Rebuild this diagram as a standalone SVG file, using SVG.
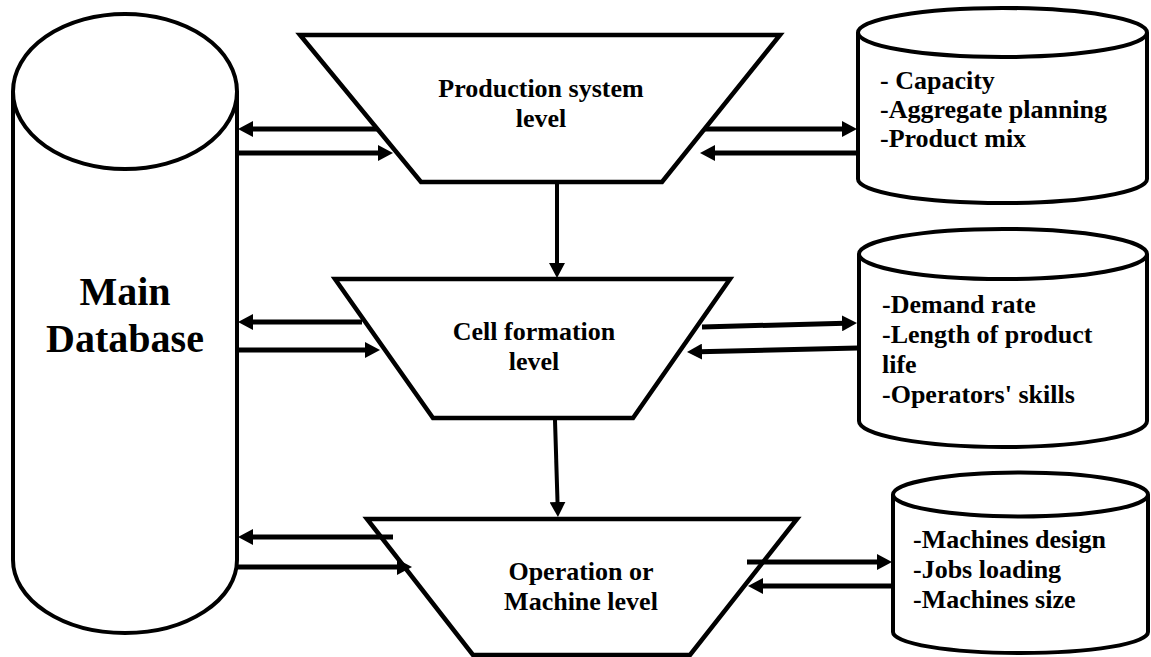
<svg xmlns="http://www.w3.org/2000/svg" width="1151" height="657" viewBox="0 0 1151 657">
<style>
.shape{fill:#fff;stroke:#000;stroke-width:4.5;stroke-linejoin:miter}
.cyl{fill:#fff;stroke:#000;stroke-width:4}
text{font-family:'Liberation Serif','Times New Roman','DejaVu Serif',serif;font-weight:bold;font-size:26px;fill:#000}
.ctr{text-anchor:middle}
.big{font-size:40px}
.conn line{stroke:#000;stroke-width:5;marker-end:url(#ah)}
.conn line.v{stroke-width:4}
</style>
<defs>
<marker id="ah" markerUnits="userSpaceOnUse" markerWidth="15" markerHeight="16" refX="3" refY="8" orient="auto" viewBox="0 0 15 16">
<path d="M0,0 L15,8 L0,16 z" fill="#000"/>
</marker>
</defs>
<rect width="1151" height="657" fill="#fff"/>

<g id="main-database">
<path class="cyl" d="M13,91.5 L13,560 A112,73 0 0 0 237,560 L237,91.5"/>
<ellipse class="cyl" cx="125" cy="91.5" rx="112" ry="77.5"/>
<text class="big ctr" x="125" y="305" font-family="Liberation Serif">Main</text>
<text class="big ctr" x="125" y="352" font-family="Liberation Serif">Database</text>
</g>

<g id="production-system-level">
<polygon class="shape" points="300,35 780,35 662,182 421,182"/>
<text class="ctr" x="541" y="97" font-family="Liberation Serif">Production system</text>
<text class="ctr" x="541" y="127" font-family="Liberation Serif">level</text>
</g>

<g id="cell-formation-level">
<polygon class="shape" points="335,279 730,279 633,418 433,418"/>
<text class="ctr" x="534" y="340" font-family="Liberation Serif">Cell formation</text>
<text class="ctr" x="534" y="370" font-family="Liberation Serif">level</text>
</g>

<g id="operation-machine-level">
<polygon class="shape" points="367,519 797,519 690,655 473,655"/>
<text class="ctr" x="581" y="580" font-family="Liberation Serif">Operation or</text>
<text class="ctr" x="581" y="610" font-family="Liberation Serif">Machine level</text>
</g>

<g id="db-production">
<path class="cyl" d="M858,32.5 L858,179 A144.5,24 0 0 0 1147,179 L1147,32.5"/>
<ellipse class="cyl" cx="1002.5" cy="32.5" rx="144.5" ry="24.5"/>
<text x="880" y="89" font-family="Liberation Serif">- Capacity</text>
<text x="880" y="118" font-family="Liberation Serif">-Aggregate planning</text>
<text x="880" y="147" font-family="Liberation Serif">-Product mix</text>
</g>

<g id="db-cell">
<path class="cyl" d="M859,254 L859,421 A144,26 0 0 0 1147,421 L1147,254"/>
<ellipse class="cyl" cx="1003" cy="254" rx="144" ry="25"/>
<text x="882" y="313" font-family="Liberation Serif">-Demand rate</text>
<text x="882" y="343" font-family="Liberation Serif">-Length of product</text>
<text x="882" y="373" font-family="Liberation Serif">life</text>
<text x="882" y="403" font-family="Liberation Serif">-Operators' skills</text>
</g>

<g id="db-machine">
<path class="cyl" d="M893,494.5 L893,632 A127.5,21 0 0 0 1148,632 L1148,494.5"/>
<ellipse class="cyl" cx="1020.5" cy="494.5" rx="127.5" ry="22"/>
<text x="913" y="548" font-family="Liberation Serif">-Machines design</text>
<text x="913" y="578" font-family="Liberation Serif">-Jobs loading</text>
<text x="913" y="608" font-family="Liberation Serif">-Machines size</text>
</g>

<g id="connectors" class="conn">
<line x1="377" y1="129" x2="250" y2="129"/>
<line x1="237" y1="153" x2="381" y2="153"/>
<line x1="704" y1="129" x2="845" y2="129"/>
<line x1="858" y1="153" x2="712" y2="153"/>
<line class="v" x1="557" y1="184" x2="557" y2="266"/>
<line x1="362" y1="322" x2="250" y2="322"/>
<line x1="237" y1="350" x2="368" y2="350"/>
<line x1="702" y1="327" x2="845" y2="323.2"/>
<line x1="858" y1="348" x2="699" y2="351.7"/>
<line class="v" x1="555" y1="420" x2="557.6" y2="505"/>
<line x1="393" y1="537" x2="250" y2="537"/>
<line x1="237" y1="567" x2="400" y2="567"/>
<line x1="747" y1="562" x2="880" y2="562"/>
<line x1="893" y1="586" x2="760" y2="586"/>
</g>
</svg>
